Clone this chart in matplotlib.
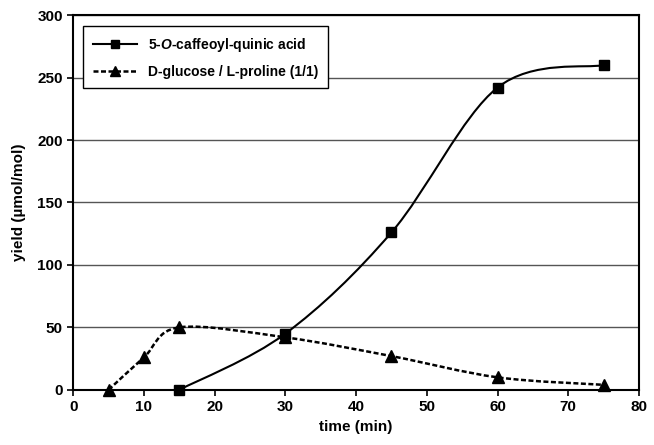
import numpy as np
import matplotlib
matplotlib.use('Agg')
from matplotlib import pyplot as plt
from matplotlib.path import Path
from matplotlib.patches import PathPatch

# data
t_cqa = [15, 30, 45, 60, 75]
y_cqa = [0, 45, 126, 242, 260]
t_glc = [5, 10, 15, 30, 45, 60, 75]
y_glc = [0, 26, 50, 42, 27, 10, 4]

x_ticks = [0, 10, 20, 30, 40, 50, 60, 70, 80]
y_ticks = [0, 50, 100, 150, 200, 250, 300]

plt.rcParams['font.family'] = ['Liberation Sans', 'DejaVu Sans']
plt.rcParams['font.weight'] = 'bold'
plt.rcParams['mathtext.fontset'] = 'custom'
plt.rcParams['mathtext.it'] = 'Liberation Sans:italic:bold'


def smooth_path(xs, ys):
    # excel-like smoothed line as bezier segments
    pts = np.column_stack([xs, ys]).astype(float)
    n = len(pts)
    verts = [pts[0]]
    codes = [Path.MOVETO]
    for i in range(n - 1):
        p0 = pts[i - 1] if i > 0 else pts[i]
        p1 = pts[i]
        p2 = pts[i + 1]
        p3 = pts[i + 2] if i + 2 < n else pts[i + 1]
        c1 = p1 + (p2 - p0) / 6.0
        c2 = p2 - (p3 - p1) / 6.0
        verts += [c1, c2, p2]
        codes += [Path.CURVE4] * 3
    return Path(verts, codes)


fig = plt.figure(figsize=(6.54, 4.45), dpi=100)
ax = fig.add_axes([0.112, 0.124, 0.865, 0.842])

ax.add_patch(PathPatch(smooth_path(t_cqa, y_cqa), fill=False, color='black', lw=1.5))
ax.add_patch(PathPatch(smooth_path(t_glc, y_glc), fill=False, color='black', lw=1.8,
                       linestyle=(0, (2, 1))))

ax.plot(t_cqa, y_cqa, 's', color='black', ms=7, clip_on=False, zorder=5)
ax.plot(t_glc, y_glc, '^', color='black', ms=8, clip_on=False, zorder=5)

# legend handles
h1, = ax.plot([], [], '-s', color='black', lw=1.5, ms=6)
h2, = ax.plot([], [], '^', color='black', lw=1.8, ms=7, linestyle=(0, (2, 1)))
leg = ax.legend([h1, h2], [r'5-$\mathit{O}$-caffeoyl-quinic acid', 'D-glucose / L-proline (1/1)'],
                loc='upper left', bbox_to_anchor=(0.005, 0.99), fancybox=False, framealpha=1,
                edgecolor='black', fontsize=10, handlelength=3.2, borderpad=0.7, labelspacing=0.8)
leg.get_frame().set_linewidth(1.0)

ax.set_xlim(0, 80)
ax.set_ylim(0, 300)
ax.set_xticks(x_ticks)
ax.set_yticks(y_ticks)
ax.yaxis.grid(True, color='#555555', lw=1.0)
ax.set_axisbelow(True)
ax.tick_params(direction='out', length=4, width=1.2, labelsize=11)
for s in ax.spines.values():
    s.set_linewidth(1.5)

ax.set_xlabel('time (min)', fontsize=11, fontweight='bold', labelpad=4)
ax.set_ylabel('yield (µmol/mol)', fontsize=11, fontweight='bold', labelpad=8)

plt.savefig('out.png', dpi=100)
